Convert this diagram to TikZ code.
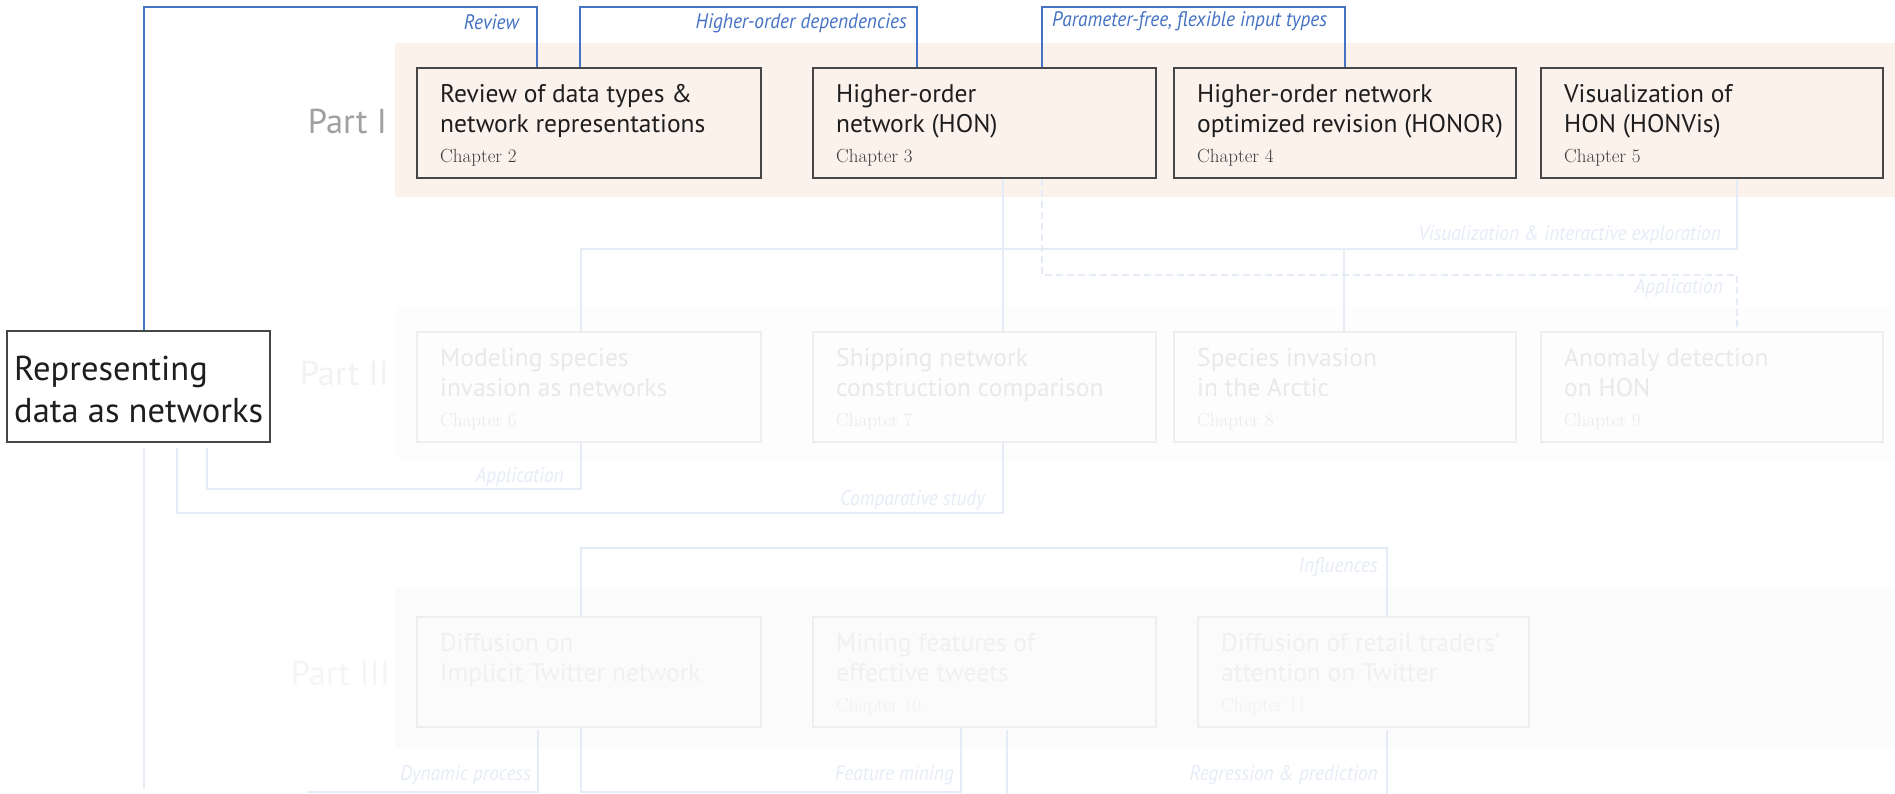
\documentclass[tikz,border=0pt]{standalone}
\usepackage{fontspec}
\newfontfamily\boxfont{PT Sans}
\newfontfamily\lblfont[FakeStretch=0.92]{PT Sans}
\definecolor{hiblue}{RGB}{68,114,196}
\definecolor{fadeblue}{RGB}{230,236,247}
\definecolor{peach}{RGB}{252,242,236}
\definecolor{boxdark}{RGB}{70,70,70}
\definecolor{inkdark}{RGB}{30,30,30}
\definecolor{chapgrey}{RGB}{60,60,60}
\definecolor{partgrey}{RGB}{160,160,160}
\definecolor{bandtwo}{RGB}{253,253,253}
\definecolor{bandthree}{RGB}{251,251,251}
\definecolor{fadeedge}{RGB}{238,238,238}
\definecolor{fadeink}{RGB}{233,233,233}
\definecolor{fadeinkthree}{RGB}{240,240,240}
\definecolor{fadepart}{RGB}{242,242,242}
\definecolor{fadepartthree}{RGB}{245,245,245}

\tikzset{
  hi/.style={draw=hiblue, line width=2.5pt},
  fadeline/.style={draw=fadeblue, line width=2.5pt},
  fadedash/.style={fadeline, dash pattern=on 7pt off 4pt},
  boxbase/.style={rectangle, inner sep=0pt, minimum height=110pt},
  boxone/.style={boxbase, draw=boxdark, line width=1.8pt, fill=peach},
  boxtwo/.style={boxbase, draw=fadeedge, line width=1.8pt, fill=bandtwo},
  boxthree/.style={boxbase, draw=fadeedge, line width=1.8pt, fill=bandthree},
  txtone/.style={inner sep=0pt, text=inkdark, font=\boxfont\fontsize{25.5}{30}\selectfont},
  txttwo/.style={txtone, text=fadeink},
  txtthree/.style={txtone, text=fadeinkthree},
  chone/.style={inner sep=0pt, text=chapgrey, font=\rmfamily\fontsize{19}{22}\selectfont},
  chtwo/.style={chone, text=fadeink},
  chthree/.style={chone, text=fadeinkthree},
  partlbl/.style={inner sep=0pt, anchor=base east, font=\boxfont\fontsize{34.5}{40}\selectfont},
  hilbl/.style={inner sep=0pt, text=hiblue, font=\lblfont\itshape\fontsize{21}{24}\selectfont},
  fadelbl/.style={hilbl, text=fadeblue},
}

% one chapter box: style, text style, name, position, width, line 1, line 2, chapter, chapter style
\newcommand{\chapbox}[9]{%
  \node[#1, minimum width=#5, anchor=north west] (#3) at (#4) {};
  \node[#2, anchor=base west] (#3-l1) at ([shift={(24,35)}]#3.north west) {#6};
  \node[#2, anchor=base west] (#3-l2) at ([shift={(24,65)}]#3.north west) {#7};
  \node[#9, anchor=base west] (#3-ch) at ([shift={(24,95)}]#3.north west) {#8};
}

\begin{document}
\begin{tikzpicture}[x=1pt, y=-1pt]
\useasboundingbox[fill=white] (0,0) rectangle (1895,793);

% part bands
\fill[peach] (395,43) rectangle (1895,197);
\fill[bandtwo] (395,306) rectangle (1895,461);
\fill[bandthree] (395,588) rectangle (1895,748);

\node[partlbl, text=partgrey] (partone) at (387,133) {Part I};
\node[partlbl, text=fadepart] (parttwo) at (389,385) {Part II};
\node[partlbl, text=fadepartthree] (partthree) at (390,685) {Part III};

% chapter boxes
\chapbox{boxone}{txtone}{pa}{416,67}{344pt}{Review of data types \&}{network representations}{Chapter 2}{chone}
\chapbox{boxone}{txtone}{pb}{812,67}{343pt}{Higher-order}{network (HON)}{Chapter 3}{chone}
\chapbox{boxone}{txtone}{pc}{1173,67}{342pt}{Higher-order network}{optimized revision (HONOR)}{Chapter 4}{chone}
\chapbox{boxone}{txtone}{pd}{1540,67}{342pt}{Visualization of}{HON (HONVis)}{Chapter 5}{chone}

\chapbox{boxtwo}{txttwo}{qa}{416,331}{344pt}{Modeling species}{invasion as networks}{Chapter 6}{chtwo}
\chapbox{boxtwo}{txttwo}{qb}{812,331}{343pt}{Shipping network}{construction comparison}{Chapter 7}{chtwo}
\chapbox{boxtwo}{txttwo}{qc}{1173,331}{342pt}{Species invasion}{in the Arctic}{Chapter 8}{chtwo}
\chapbox{boxtwo}{txttwo}{qd}{1540,331}{342pt}{Anomaly detection}{on HON}{Chapter 9}{chtwo}

\chapbox{boxthree}{txtthree}{ra}{416,616}{344pt}{Diffusion on}{Implicit Twitter network}{}{chthree}
\chapbox{boxthree}{txtthree}{rb}{812,616}{343pt}{Mining features of}{effective tweets}{Chapter 10}{chthree}
\chapbox{boxthree}{txtthree}{rc}{1197,616}{331pt}{Diffusion of retail traders’}{attention on Twitter}{Chapter 11}{chthree}

% central topic
\node[rectangle, draw=boxdark, line width=1.8pt, fill=white, inner sep=0pt,
      minimum width=263pt, minimum height=111pt, anchor=north west] (rep) at (6,330) {};
\node[inner sep=0pt, anchor=base west, text=inkdark, font=\boxfont\fontsize{34.5}{40}\selectfont]
  (rep-l1) at (14,380) {Representing};
\node[inner sep=0pt, anchor=base west, text=inkdark, font=\boxfont\fontsize{34.5}{40}\selectfont]
  (rep-l2) at (14,422) {data as networks};

% Part I links
\coordinate (rvl) at (144,7);
\coordinate (rvr) at (537,7);
\draw[hi] (rvl |- rep.north) -- (rvl) -- (rvr) -- (rvr |- pa.north);
\node[hilbl, anchor=base east] (lrev) at (519,29) {Review};

\coordinate (hdl) at (580,7);
\coordinate (hdr) at (917,7);
\draw[hi] (hdl |- pa.north) -- (hdl) -- (hdr) -- (hdr |- pb.north);
\node[hilbl, anchor=base east] (lhd) at (907,28) {Higher-order dependencies};

\coordinate (pfl) at (1042,7);
\coordinate (pfr) at (1345,7);
\draw[hi] (pfl |- pb.north) -- (pfl) -- (pfr) -- (pfr |- pc.north);
\node[hilbl, anchor=base west] (lpf) at (1052,26) {Parameter-free, flexible input types};

% Part I to Part II links
\coordinate (vza) at (1737,249);
\coordinate (vzb) at (581,249);
\coordinate (vzc) at (1344,249);
\coordinate (hon) at (1003,249);
\draw[fadeline] (vza |- pd.south) -- (vza) -- (vzb) -- (vzb |- qa.north);
\draw[fadeline] (vzc) -- (vzc |- qc.north);
\draw[fadeline] (hon |- pb.south) -- (hon |- qb.north);
\node[fadelbl, anchor=base east] (lvz) at (1721,240) {Visualization \& interactive exploration};

\coordinate (apa) at (1042,275);
\coordinate (apb) at (1737,275);
\draw[fadedash] (apa |- pb.south) -- (apa) -- (apb) -- (apb |- qd.north);
\node[fadelbl, anchor=base east] (lap) at (1723,293) {Application};

% Part II back to the central topic
\coordinate (aca) at (581,489);
\coordinate (acb) at (207,489);
\coordinate (ace) at (207,448);
\draw[fadeline] (aca |- qa.south) -- (aca) -- (acb) -- (ace);
\node[fadelbl, anchor=base east] (lac) at (564,482) {Application};

\coordinate (csa) at (1003,513);
\coordinate (csb) at (177,513);
\coordinate (cse) at (177,448);
\draw[fadeline] (csa |- qb.south) -- (csa) -- (csb) -- (cse);
\node[fadelbl, anchor=base east] (lcs) at (985,505) {Comparative study};

\coordinate (lga) at (144,448);
\coordinate (lgb) at (144,788);
\draw[fadeline] (lga) -- (lgb);

% Part III links
\coordinate (ifa) at (581,548);
\coordinate (ifb) at (1387,548);
\draw[fadeline] (ifa |- ra.north) -- (ifa) -- (ifb) -- (ifb |- rc.north);
\node[fadelbl, anchor=base east] (lif) at (1378,572) {Influences};

\coordinate (dpa) at (538,730);
\coordinate (dpb) at (538,792);
\coordinate (dpc) at (307,792);
\draw[fadeline] (dpa) -- (dpb) -- (dpc);
\node[fadelbl, anchor=base east] (ldp) at (531,780) {Dynamic process};

\coordinate (fma) at (581,792);
\coordinate (fmb) at (961,792);
\draw[fadeline] (fma |- ra.south) -- (fma) -- (fmb) -- (fmb |- rb.south);
\node[fadelbl, anchor=base east] (lfm) at (954,780) {Feature mining};

\coordinate (tda) at (1007,730);
\coordinate (tdb) at (1007,795);
\draw[fadeline] (tda) -- (tdb);

\coordinate (rpa) at (1387,730);
\coordinate (rpb) at (1387,795);
\draw[fadeline] (rpa) -- (rpb);
\node[fadelbl, anchor=base east] (lrp) at (1378,780) {Regression \& prediction};

\end{tikzpicture}
\end{document}
